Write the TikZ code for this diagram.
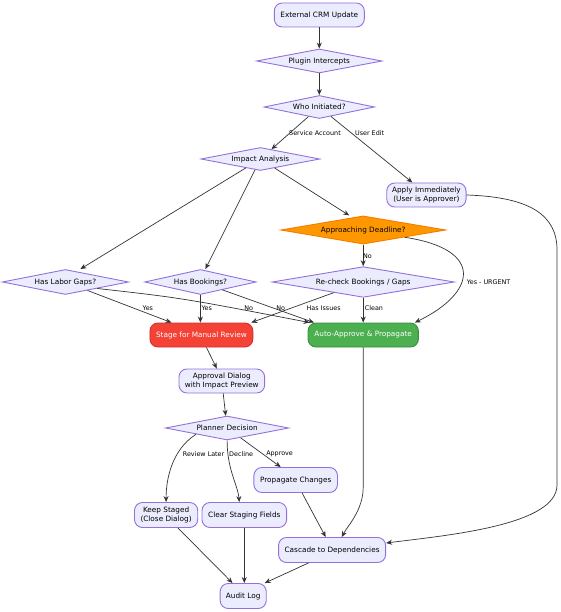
\documentclass[tikz,border=0pt]{standalone}
\usepackage{fontspec}
\setmainfont{DejaVu Sans}
\usetikzlibrary{shapes.geometric,arrows.meta}
\definecolor{nfill}{HTML}{ECECFF}
\definecolor{nstroke}{HTML}{9370DB}
\definecolor{ecol}{HTML}{333333}
\definecolor{ofill}{HTML}{FF9800}
\definecolor{ostroke}{HTML}{F57C00}
\definecolor{rfill}{HTML}{F44336}
\definecolor{rstroke}{HTML}{D32F2F}
\definecolor{gfill}{HTML}{4CAF50}
\definecolor{gstroke}{HTML}{388E3C}
\tikzset{
  box/.style={draw=nstroke, fill=nfill, line width=0.9pt, rectangle, rounded corners=8pt,
    inner sep=0pt, align=center, font=\fontsize{7.3}{8.4}\selectfont, text=black},
  dec/.style={draw=nstroke, fill=nfill, line width=0.9pt, diamond, inner sep=0pt, aspect=4,
    font=\fontsize{7.3}{8.4}\selectfont, text=black},
  arr/.style={draw=ecol, line width=0.7pt, -{Stealth[length=6pt,width=5pt]}},
  lab/.style={font=\fontsize{6.4}{7.5}\selectfont, inner sep=0pt, text=black}
}
\begin{document}
\begin{tikzpicture}[x=1pt,y=-1pt]
\useasboundingbox (0,0) rectangle (560,612);
% nodes
\node[box, minimum width=90pt, minimum height=24pt] (ext) at (319.3,15) {External CRM Update};
\node[dec, minimum width=125.4pt, minimum height=24pt] (plugin) at (319.3,61) {Plugin Intercepts};
\node[dec, minimum width=110.4pt, minimum height=23pt] (who) at (319.3,107) {Who Initiated?};
\node[dec, minimum width=118.9pt, minimum height=23pt] (impact) at (260.4,159) {Impact Analysis};
\node[box, minimum width=79.3pt, minimum height=24pt] (apply) at (426.4,195) {Apply Immediately\\(User is Approver)};
\node[dec, draw=ostroke, fill=ofill, minimum width=165pt, minimum height=25pt] (deadline) at (363.2,230) {Approaching Deadline?};
\node[dec, minimum width=126.4pt, minimum height=25pt] (labor) at (65.4,282) {Has Labor Gaps?};
\node[dec, minimum width=111.4pt, minimum height=25pt] (book) at (200.4,282) {Has Bookings?};
\node[dec, minimum width=182.1pt, minimum height=25pt] (recheck) at (363.2,282) {Re-check Bookings / Gaps};
\node[box, draw=rstroke, fill=rfill, text=white, minimum width=102.9pt, minimum height=24pt] (stage) at (201.4,335) {Stage for Manual Review};
\node[box, draw=gstroke, fill=gfill, text=white, minimum width=110.4pt, minimum height=24pt] (auto) at (363.2,335) {Auto-Approve \& Propagate};
\node[box, minimum width=85.7pt, minimum height=24pt] (dialog) at (221.8,381) {Approval Dialog\\with Impact Preview};
\node[dec, minimum width=123.2pt, minimum height=24pt] (planner) at (227.1,428) {Planner Decision};
\node[box, minimum width=83.6pt, minimum height=25pt] (prop) at (295.7,480) {Propagate Changes};
\node[box, minimum width=63.2pt, minimum height=25pt] (keep) at (166.1,515) {Keep Staged\\(Close Dialog)};
\node[box, minimum width=84.6pt, minimum height=25pt] (clear) at (244.3,515) {Clear Staging Fields};
\node[box, minimum width=107.1pt, minimum height=25pt] (cascade) at (332.1,550) {Cascade to Dependencies};
\node[box, minimum width=46.1pt, minimum height=25pt] (audit) at (243.2,596) {Audit Log};
\coordinate (autobend) at (363.2,487);
% edges
\draw[arr] (ext) -- (plugin);
\draw[arr] (plugin) -- (who);
\draw[arr] (who) -- (impact);
\draw[arr] (who) -- ([xshift=-14pt]apply.north);
\draw[arr] (impact) -- ([xshift=15pt]labor.north);
\draw[arr] (impact) -- ([xshift=5pt]book.north);
\draw[arr] (impact) -- ([xshift=-14pt]deadline.north);
\draw[arr] (deadline) -- (recheck);
\draw[arr] (deadline.south east) .. controls +(80,12) and +(62,-30) .. ([xshift=-4pt]auto.north east);
\draw[arr] (labor) -- ([xshift=-30pt]stage.north);
\draw[arr] (labor.south east) .. controls (182,298) .. ([xshift=2pt]auto.north west);
\draw[arr] (book.south) -- (book.south |- stage.north);
\draw[arr] (book) -- ([xshift=6.4pt]auto.north west);
\draw[arr] (recheck) -- ([xshift=-2pt]stage.north east);
\draw[arr] (recheck) -- (auto);
\draw[arr] ([xshift=5pt]stage.south) -- ([xshift=-5pt]dialog.north);
\draw[arr] (dialog) -- (planner);
\draw[arr] (auto.south) -- (autobend) .. controls (363.2,510) and (348.2,525) .. ([xshift=9.6pt]cascade.north);
\draw[arr] (apply.east) .. controls (530,197) and (557,215) .. (557,250) -- (557,485) .. controls (557,525) and (450,535) .. ([yshift=7pt]cascade.east);
\draw[arr] (planner.south west) .. controls (171.4,450) and (166,480) .. (keep.north);
\draw[arr] (planner.south) .. controls (227.1,470) and (237.9,485) .. ([xshift=-5pt]clear.north);
\draw[arr] (planner) -- ([xshift=-15pt]prop.north);
\draw[arr] ([xshift=6.4pt]prop.south) -- ([xshift=-6.4pt]cascade.north);
\draw[arr] ([xshift=11.8pt]keep.south) -- ([xshift=-10.7pt]audit.north);
\draw[arr] (clear.south) -- (clear.south |- audit.north);
\draw[arr] ([xshift=-23.6pt]cascade.south) -- ([xshift=-2pt]audit.north east);
% labels
\node[lab] (l1) at (315,133) {Service Account};
\node[lab] (l2) at (369.6,133) {User Edit};
\node[lab] (l3) at (367.5,256) {No};
\node[lab] (l4) at (488.6,282) {Yes - URGENT};
\node[lab] (l5) at (147.9,308) {Yes};
\node[lab] (l6) at (206.8,308) {Yes};
\node[lab] (l7) at (248.6,308) {No};
\node[lab] (l8) at (280.7,308) {No};
\node[lab] (l9) at (323.6,308) {Has Issues};
\node[lab] (l10) at (373.9,308) {Clean};
\node[lab] (l11) at (203.6,454) {Review Later};
\node[lab] (l12) at (241.1,454) {Decline};
\node[lab] (l13) at (279.6,454) {Approve};
\end{tikzpicture}
\end{document}
